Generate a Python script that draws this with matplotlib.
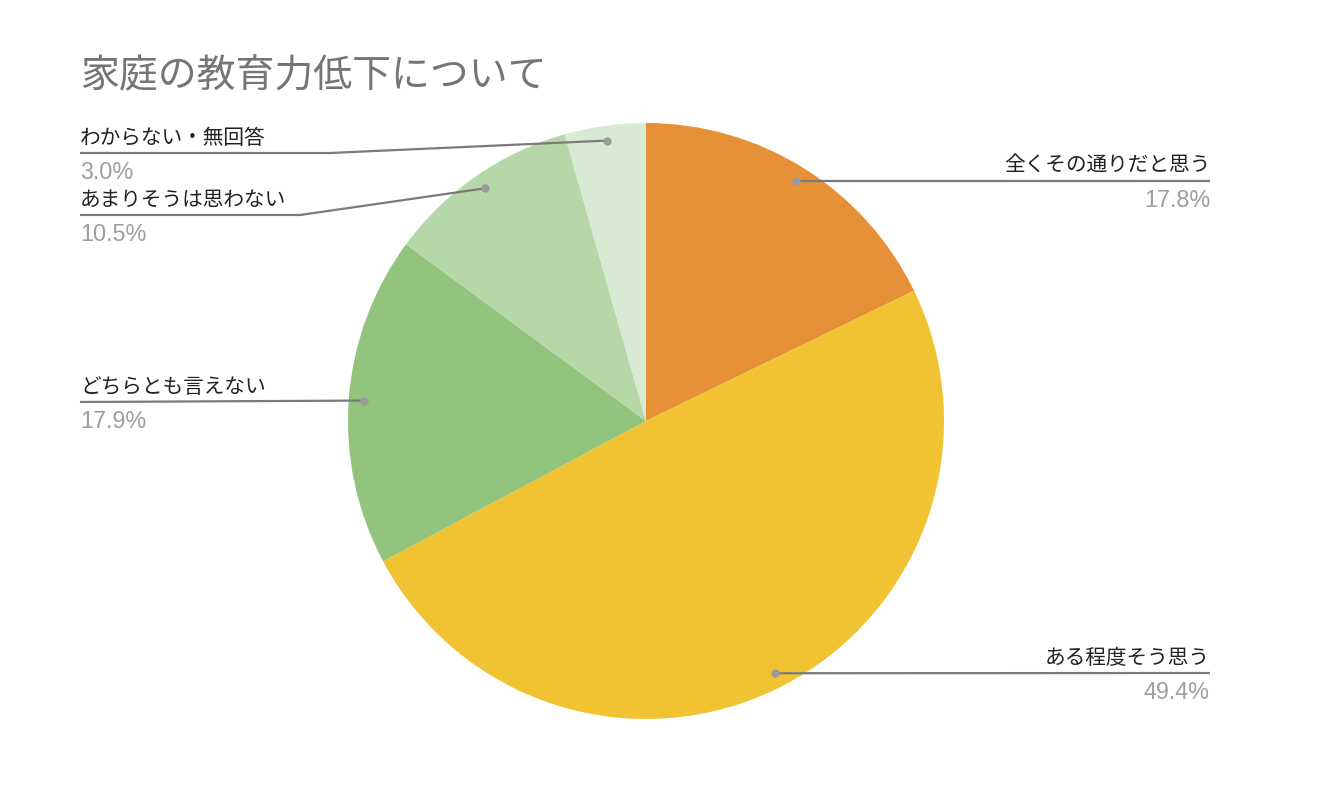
import matplotlib
import numpy as np

matplotlib.use("Agg")
import matplotlib.pyplot as plt

# data (clockwise from 12 o'clock)
categories = ["全くその通りだと思う", "ある程度そう思う", "どちらとも言えない", "あまりそうは思わない", "わからない・無回答"]
shares = [17.8, 49.4, 17.9, 10.5, 4.4]  # slice sizes as drawn
pct_labels = ["17.8%", "49.4%", "17.9%", "10.5%", "3.0%"]  # printed labels
colors = ["#E69138", "#F1C232", "#93C47D", "#B6D7A8", "#D9EAD3"]
title = "家庭の教育力低下について"

W, H = 1336, 792
CX, CY, R = 646, H - 421, 298

JP = ["Noto Sans CJK JP", "DejaVu Sans"]
plt.rcParams["font.family"] = JP

fig = plt.figure(figsize=(W / 100, H / 100), dpi=100)
ax = fig.add_axes([0, 0, 1, 1])

wedges, _ = ax.pie(
    shares,
    colors=colors,
    startangle=90,
    counterclock=False,
    center=(CX, CY),
    radius=R,
    wedgeprops=dict(linewidth=0),
)
ax.set_xlim(0, W)
ax.set_ylim(0, H)
ax.set_aspect("equal")
ax.axis("off")

fig.text(81 / W, 1 - 76 / H, title, fontsize=28, color="#757575", va="center", ha="left")

# label anchors: (side, elbow_x, line_y in pixels from top)
layout = [
    ("right", None, 181),
    ("right", None, 673),
    ("left", None, 402),
    ("left", 300, 215),
    ("left", 330, 153),
]

line_c = "#7a7a7a"
for w, cat, pct, (side, elbow_x, ly) in zip(wedges, categories, pct_labels, layout):
    mid = np.deg2rad((w.theta1 + w.theta2) / 2)
    dx = CX + 0.95 * R * np.cos(mid)
    dy = CY + 0.95 * R * np.sin(mid)
    y = H - ly
    if side == "right":
        xs, ys = [dx, 1210], [dy, y]
        tx, ha = 1210, "right"
    else:
        if elbow_x is None:
            xs, ys = [dx, 80], [dy, y]
        else:
            xs, ys = [dx, elbow_x, 80], [dy, y, y]
        tx, ha = 80, "left"
    ax.plot(xs, ys, color=line_c, lw=1.6, solid_capstyle="butt", zorder=3)
    ax.plot(dx, dy, "o", ms=5, color="#9a9a9a", zorder=4)
    ax.text(tx, y + 4, cat, fontsize=14.9, color="#222222", ha=ha, va="bottom")
    ax.text(tx, y - 8, pct, fontsize=16.8, color="#9e9e9e", ha=ha, va="top",
            family=["Liberation Sans", "DejaVu Sans"])

fig.savefig("out.png", dpi=100, facecolor="white")
